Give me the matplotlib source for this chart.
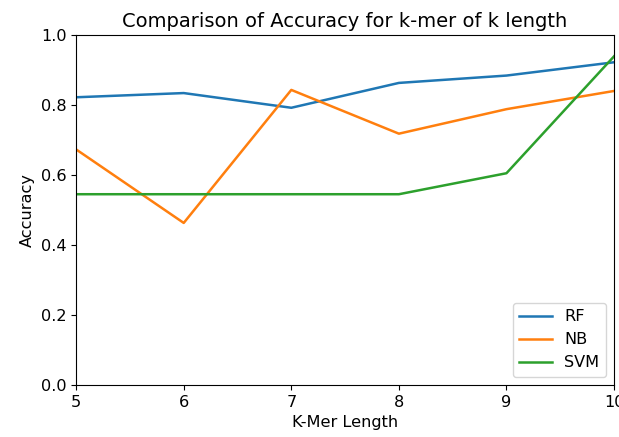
import matplotlib
matplotlib.use("Agg")
import matplotlib.pyplot as plt

k_values = [5, 6, 7, 8, 9, 10]
rf_acc = [0.822, 0.834, 0.792, 0.863, 0.884, 0.922]
nb_acc = [0.673, 0.463, 0.843, 0.718, 0.788, 0.840]
svm_acc = [0.545, 0.545, 0.545, 0.545, 0.605, 0.939]

figure = plt.figure(figsize=(6.19, 4.37), dpi=100)
subplot = figure.add_subplot(111)
figure.subplots_adjust(left=0.123, right=0.992, top=0.92, bottom=0.119)

subplot.plot(k_values, rf_acc, label="RF", linewidth=1.8)
subplot.plot(k_values, nb_acc, label="NB", linewidth=1.8)
subplot.plot(k_values, svm_acc, label="SVM", linewidth=1.8)

subplot.set_xlim(5, 10)
subplot.set_ylim(0, 1.0)
subplot.set_title("Comparison of Accuracy for k-mer of k length", fontsize=14)
subplot.set_xlabel("K-Mer Length", fontsize=11.6)
subplot.set_ylabel("Accuracy", fontsize=11.6)
subplot.tick_params(labelsize=11.6)
subplot.legend(loc="lower right", fontsize=11.6)

figure.savefig("out.png", dpi=100)
